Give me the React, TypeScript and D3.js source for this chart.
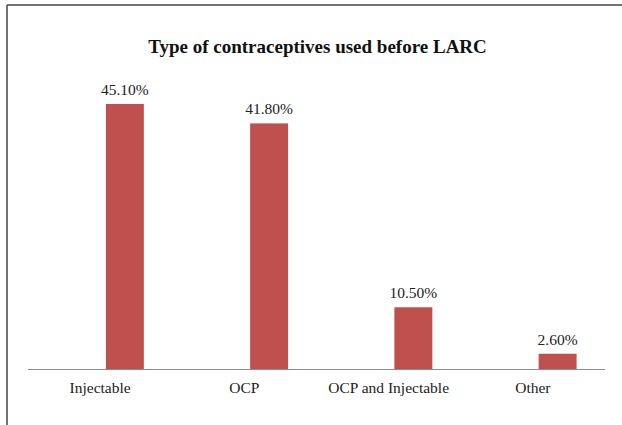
import React from "react";
import * as d3 from "d3";

const categories = ["Injectable", "OCP", "OCP and Injectable", "Other"];
const values = [45.1, 41.8, 10.5, 2.6];
const valueLabels = ["45.10%", "41.80%", "10.50%", "2.60%"];
const title = "Type of contraceptives used before LARC";

const W = 622;
const H = 425;
const FONT = "'Liberation Serif', 'Times New Roman', serif";

export default function App() {
  const x = d3.scaleBand<string>().domain(categories).range([28, 605]).paddingInner(0).paddingOuter(0);
  const y = d3.scaleLinear().domain([0, 45.1]).range([369, 104]);
  const bw = x.bandwidth();
  const barOff = bw * 0.54;
  const barW = bw * 0.263;

  return (
    <svg width={W} height={H} style={{ position: "absolute", left: 0, top: 0, background: "#fff" }}>
      <rect x={0} y={0} width={W} height={H} fill="#fff" />
      <line x1={7} y1={5} x2={W} y2={5} stroke="#444" strokeWidth={1.5} />
      <line x1={7} y1={5} x2={7} y2={H} stroke="#444" strokeWidth={1.5} />
      <text x={317.5} y={53} textAnchor="middle" fontFamily={FONT} fontWeight="bold" fontSize={19} fill="#111">
        {title}
      </text>
      {categories.map((c, i) => {
        const bx = (x(c) as number) + barOff;
        const by = y(values[i]);
        return (
          <g key={c}>
            <rect x={bx} y={by} width={barW} height={y(0) - by} fill="#C0504D" />
            <text x={bx + barW / 2} y={by - 9} textAnchor="middle" fontFamily={FONT} fontSize={15.5} fill="#222">
              {valueLabels[i]}
            </text>
            <text x={(x(c) as number) + bw / 2} y={393} textAnchor="middle" fontFamily={FONT} fontSize={15.5} fill="#222">
              {c}
            </text>
          </g>
        );
      })}
      <line x1={28} y1={369.5} x2={605} y2={369.5} stroke="#8c8c8c" strokeWidth={1} />
    </svg>
  );
}
